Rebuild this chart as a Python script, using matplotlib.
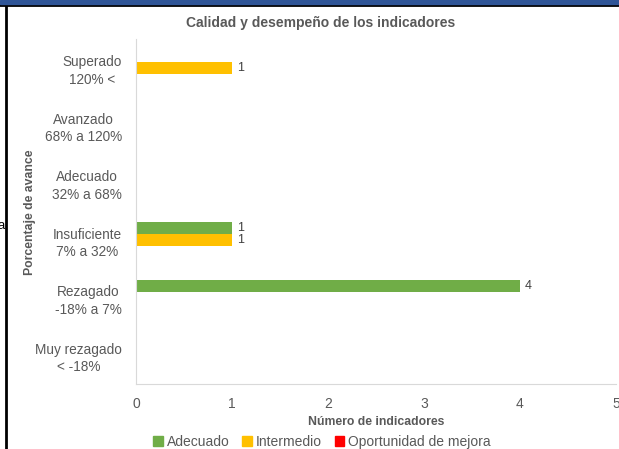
import numpy as np
import matplotlib.pyplot as plt
from matplotlib.patches import Patch

plt.rcParams['font.family'] = ['Liberation Sans', 'DejaVu Sans']

# datos
categorias = ['Superado\n120% <', 'Avanzado\n68% a 120%', 'Adecuado\n32% a 68%',
              'Insuficiente\n7% a 32%', 'Rezagado\n-18% a 7%', 'Muy rezagado\n< -18%']
adecuado = [0, 0, 0, 1, 4, 0]
intermedio = [1, 0, 0, 1, 0, 0]
oportunidad = [0, 0, 0, 0, 0, 0]
series = ['Adecuado', 'Intermedio', 'Oportunidad de mejora']
colores = ['#70AD47', '#FFC000', '#FF0000']

gris = '#595959'

fig = plt.figure(figsize=(6.19, 4.49), dpi=100)
ax = fig.add_axes([136/619, 1-384/449, 480/619, 345/449])

y = np.arange(len(categorias))
h = 0.209
for k, (vals, c) in enumerate(zip([adecuado, intermedio, oportunidad], colores)):
    pos = y + (k-1)*h
    ax.barh(pos, vals, height=h, color=c)
    for p, v in zip(pos, vals):
        if v > 0:
            ax.text(v + 0.05, p, str(v), va='center', ha='left', fontsize=9, color='#404040')

ax.set_xlim(0, 5)
ax.set_ylim(len(categorias)-0.5, -0.5)
ax.set_yticks(y)
ax.set_yticklabels(categorias, fontsize=9.8, color=gris, multialignment='center',
                   linespacing=1.3)
ax.set_xticks(range(6))
ax.set_xticklabels([str(i) for i in range(6)], fontsize=10, color=gris)
ax.tick_params(axis='both', length=0)
ax.tick_params(axis='y', pad=10)
ax.tick_params(axis='x', pad=9)
for s in ['top', 'right']:
    ax.spines[s].set_visible(False)
ax.spines['left'].set_color('#D9D9D9')
ax.spines['bottom'].set_color('#D9D9D9')

ax.set_xlabel('Número de indicadores', fontsize=8.8, fontweight='bold', color=gris, labelpad=4)
fig.text(30/619, 1-212/449, 'Porcentaje de avance', rotation=90, fontsize=8.8,
         fontweight='bold', color=gris, ha='center', va='center')
fig.text(321/619, 1-23/449, 'Calidad y desempeño de los indicadores', fontsize=10,
         fontweight='bold', color=gris, ha='center', va='center')

handles = [Patch(color=c, label=s) for s, c in zip(series, colores)]
fig.legend(handles=handles, loc='center', bbox_to_anchor=(322/619, 1-442/449), ncol=3,
           frameon=False, fontsize=10, labelcolor=gris, handlelength=0.7, handleheight=0.7,
           handletextpad=0.3, columnspacing=0.9)

# marco del documento
fig.patches.append(plt.Rectangle((0, 1-4/449), 1, 4/449, transform=fig.transFigure,
                                 color='#2F5597', zorder=5))
fig.lines.append(plt.Line2D([0, 1], [1-5/449, 1-5/449], transform=fig.transFigure,
                            color='black', lw=2))
fig.lines.append(plt.Line2D([6/619, 6/619], [0, 1], transform=fig.transFigure,
                            color='black', lw=2))
fig.text(-2/619, 1-226/449, 'a', fontsize=9.5, color='black', va='center', ha='left')

fig.savefig('out.png', dpi=100)
